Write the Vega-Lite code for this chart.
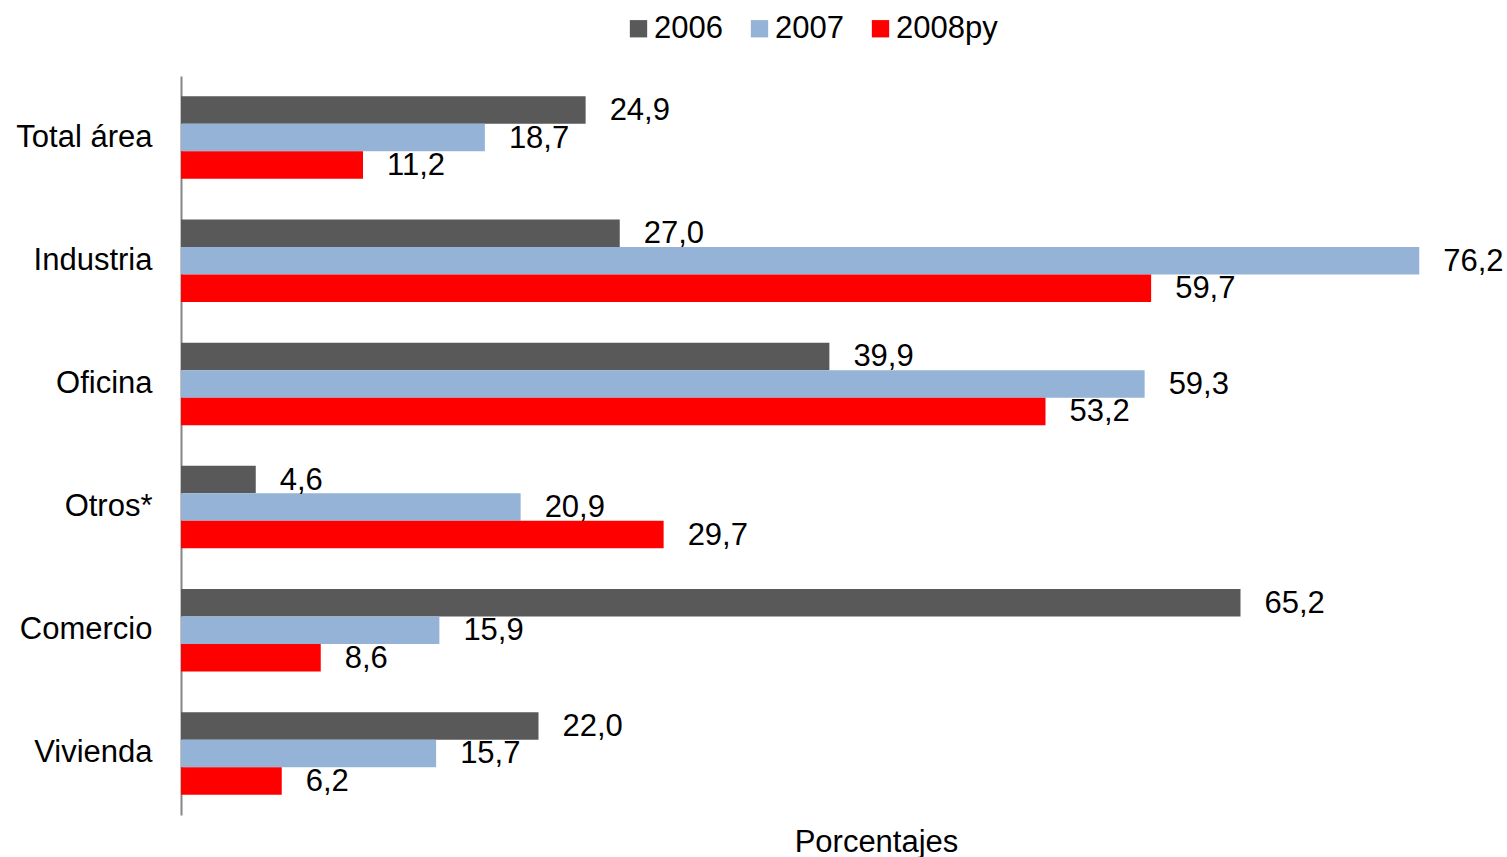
{
  "$schema": "https://vega.github.io/schema/vega-lite/v6.json",
  "autosize": "none",
  "width": 1320,
  "height": 739,
  "padding": {"left": 181, "top": 76, "right": 6, "bottom": 42},
  "background": "white",
  "config": {
    "font": "Liberation Sans",
    "view": {"stroke": null},
    "locale": {
      "number": {"decimal": ",", "thousands": ".", "grouping": [3], "currency": ["", " €"]}
    }
  },
  "data": {
    "values": [
      {"sector": "Total área", "serie": "2006", "valor": 24.9},
      {"sector": "Total área", "serie": "2007", "valor": 18.7},
      {"sector": "Total área", "serie": "2008py", "valor": 11.2},
      {"sector": "Industria", "serie": "2006", "valor": 27.0},
      {"sector": "Industria", "serie": "2007", "valor": 76.2},
      {"sector": "Industria", "serie": "2008py", "valor": 59.7},
      {"sector": "Oficina", "serie": "2006", "valor": 39.9},
      {"sector": "Oficina", "serie": "2007", "valor": 59.3},
      {"sector": "Oficina", "serie": "2008py", "valor": 53.2},
      {"sector": "Otros*", "serie": "2006", "valor": 4.6},
      {"sector": "Otros*", "serie": "2007", "valor": 20.9},
      {"sector": "Otros*", "serie": "2008py", "valor": 29.7},
      {"sector": "Comercio", "serie": "2006", "valor": 65.2},
      {"sector": "Comercio", "serie": "2007", "valor": 15.9},
      {"sector": "Comercio", "serie": "2008py", "valor": 8.6},
      {"sector": "Vivienda", "serie": "2006", "valor": 22.0},
      {"sector": "Vivienda", "serie": "2007", "valor": 15.7},
      {"sector": "Vivienda", "serie": "2008py", "valor": 6.2}
    ]
  },
  "encoding": {
    "y": {
      "field": "sector",
      "type": "nominal",
      "sort": null,
      "scale": {"paddingInner": 0.33, "paddingOuter": 0.165},
      "axis": {
        "title": null,
        "ticks": false,
        "domainColor": "#868686",
        "domainWidth": 2,
        "labelFontSize": 31,
        "labelColor": "#000000",
        "labelPadding": 29
      }
    },
    "yOffset": {
      "field": "serie",
      "type": "nominal",
      "sort": ["2006", "2007", "2008py"],
      "scale": {"paddingInner": 0, "paddingOuter": 0}
    },
    "x": {
      "field": "valor",
      "type": "quantitative",
      "scale": {"domain": [0, 81.23], "nice": false, "zero": true},
      "axis": {
        "title": "Porcentajes",
        "domain": false,
        "ticks": false,
        "labels": false,
        "grid": false,
        "titleFontSize": 31,
        "titleFontWeight": "normal",
        "titleColor": "#000000",
        "titleX": 695,
        "titleY": 36,
        "titleAlign": "center",
        "titleBaseline": "alphabetic"
      }
    }
  },
  "layer": [
    {
      "mark": {"type": "bar"},
      "encoding": {
        "color": {
          "field": "serie",
          "type": "nominal",
          "scale": {
            "domain": ["2006", "2007", "2008py"],
            "range": ["#595959", "#95B3D7", "#FF0000"]
          },
          "legend": {
            "title": null,
            "orient": "none",
            "direction": "horizontal",
            "legendX": 442,
            "legendY": -63,
            "symbolType": "square",
            "symbolSize": 300,
            "symbolStrokeWidth": 0,
            "labelFontSize": 31,
            "labelColor": "#000000",
            "labelOffset": 0,
            "columnPadding": 21
          }
        }
      }
    },
    {
      "mark": {
        "type": "text",
        "align": "left",
        "baseline": "middle",
        "dx": 24,
        "dy": 1,
        "fontSize": 31,
        "color": "#000000"
      },
      "encoding": {
        "text": {"field": "valor", "type": "quantitative", "format": ".1f"}
      }
    }
  ]
}
